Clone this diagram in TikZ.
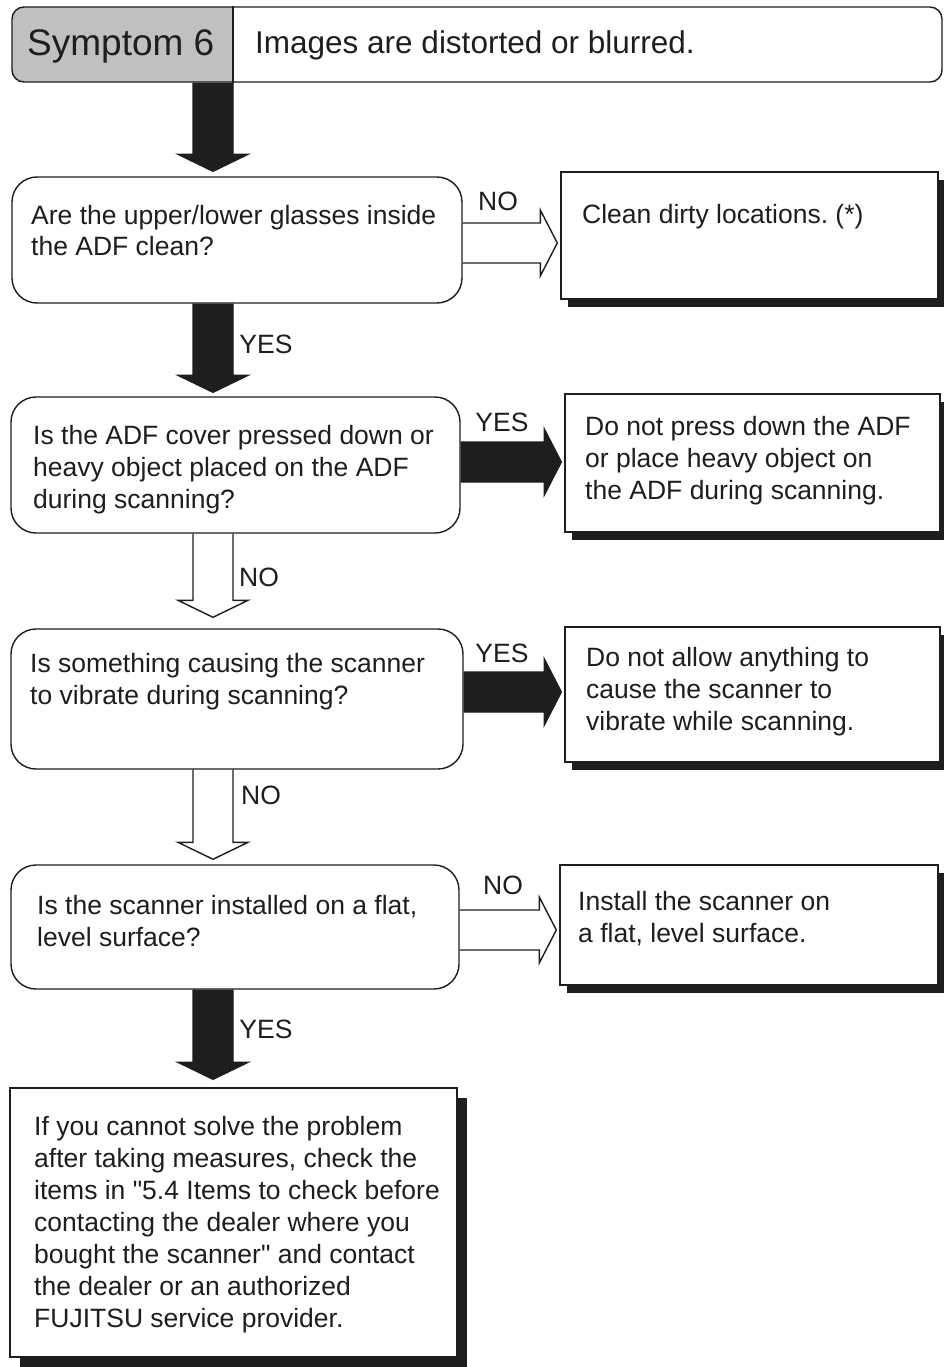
\documentclass[tikz,border=0pt]{standalone}
\usepackage{fontspec}
\setmainfont{Liberation Sans}[Ligatures=TeXOff]
\usetikzlibrary{calc,shadows}
\definecolor{hdrgray}{RGB}{192,192,194}
\definecolor{ink}{RGB}{30,30,30}
\tikzset{
  line/.style={line width=1.4pt, draw=ink},
  qbox/.style={line, rounded corners=25pt, fill=white, inner sep=0pt},
  abox/.style={line, fill=white, inner sep=0pt,
    drop shadow={shadow xshift=7pt, shadow yshift=-8pt, fill=ink, opacity=1}},
  fbox/.style={line, fill=white, inner sep=0pt,
    drop shadow={shadow xshift=10pt, shadow yshift=-10pt, fill=ink, opacity=1}},
  txt/.style={inner sep=0pt, text=ink, font=\fontsize{26.5}{32}\selectfont},
  lbl/.style={inner sep=0pt, text=ink, font=\fontsize{26.5}{32}\selectfont},
  solidarrow/.style={line, fill=ink},
  openarrow/.style={line},
}
% #1 style, #2 x-coordinate name, #3 from anchor, #4 to anchor, #5 gap
\newcommand\vblock[5]{%
  \path (#2 |- #3) coordinate (vt) ($(#2 |- #4)+(0,-#5)$) coordinate (vb);
  \draw[#1] ($(vt)+(-20,0)$) -- ($(vb)+(-20,-17)$) -- ($(vb)+(-35,-17)$) -- (vb)
    -- ($(vb)+(35,-17)$) -- ($(vb)+(20,-17)$) -- ($(vt)+(20,0)$);
}
% #1 style, #2 y-coordinate name, #3 from node, #4 to node
\newcommand\hblock[4]{%
  \path (#3.east |- #2) coordinate (hs) ($(#4.west |- #2)+(-3,0)$) coordinate (ht);
  \draw[#1] ($(hs)+(0,-20)$) -- ($(ht)+(-17,-20)$) -- ($(ht)+(-17,-33)$) -- (ht)
    -- ($(ht)+(-17,33)$) -- ($(ht)+(-17,20)$) -- ($(hs)+(0,20)$);
}
\frenchspacing
\begin{document}
\begin{tikzpicture}[x=1pt,y=-1pt]
\useasboundingbox (0,0) rectangle (944,1367);
\fill[white] (0,0) rectangle (944,1367);

% header
\begin{scope}
  \clip (12,0) rectangle (233,90);
  \fill[hdrgray, rounded corners=12pt] (12,7) rectangle (942,82);
\end{scope}
\node[line, rounded corners=12pt, minimum width=930pt, minimum height=75pt, inner sep=0pt] (hdr) at (477,44.5) {};
\coordinate (div) at (233,0);
\draw[line] (div |- hdr.north) -- (div |- hdr.south);
\node[inner sep=0pt, text=ink, font=\fontsize{37}{40}\selectfont, anchor=base west] (sym) at (27,56) {Symptom 6};
\node[inner sep=0pt, text=ink, font=\fontsize{31.5}{36}\selectfont, anchor=base west] (ttl) at (255,54) {Images are distorted or blurred.};

% question boxes
\node[qbox, minimum width=450pt, minimum height=126pt] (q1) at (237,240) {};
\node[qbox, minimum width=449pt, minimum height=136pt] (q2) at (235.5,465) {};
\node[qbox, minimum width=452pt, minimum height=140pt] (q3) at (237,699) {};
\node[qbox, minimum width=448pt, minimum height=124pt] (q4) at (235,927) {};

% answer boxes
\node[abox, minimum width=377pt, minimum height=127pt] (r1) at (749.5,235.5) {};
\node[abox, minimum width=375pt, minimum height=138pt] (r2) at (752.5,463) {};
\node[abox, minimum width=375pt, minimum height=135pt] (r3) at (752.5,694.5) {};
\node[abox, minimum width=378pt, minimum height=120pt] (r4) at (749,925) {};
\node[fbox, minimum width=447pt, minimum height=269pt] (fin) at (233.5,1222.5) {};

% texts
\node[txt, anchor=base west] (q1t) at (31,224) {\parbox[t]{440pt}{\raggedright Are the upper/lower glasses inside\\the ADF clean?}};
\node[txt, anchor=base west] (q2t) at (33,444) {\parbox[t]{440pt}{\raggedright Is the ADF cover pressed down or\\heavy object placed on the ADF\\during scanning?}};
\node[txt, anchor=base west] (q3t) at (30,672) {\parbox[t]{440pt}{\raggedright Is something causing the scanner\\to vibrate during scanning?}};
\node[txt, anchor=base west] (q4t) at (37,914) {\parbox[t]{440pt}{\raggedright Is the scanner installed on a flat,\\level surface?}};
\node[txt, anchor=base west] (r1t) at (582,223) {\parbox[t]{360pt}{\raggedright Clean dirty locations. (*)}};
\node[txt, anchor=base west] (r2t) at (585,435) {\parbox[t]{360pt}{\raggedright Do not press down the ADF\\or place heavy object on\\the ADF during scanning.}};
\node[txt, anchor=base west] (r3t) at (586,666) {\parbox[t]{360pt}{\raggedright Do not allow anything to\\cause the scanner to\\vibrate while scanning.}};
\node[txt, anchor=base west] (r4t) at (578,910) {\parbox[t]{360pt}{\raggedright Install the scanner on\\a flat, level surface.}};
\node[txt, anchor=base west] (fint) at (34,1135) {\parbox[t]{430pt}{\raggedright If you cannot solve the problem\\after taking measures, check the\\items in "5.4 Items to check before\\contacting the dealer where you\\bought the scanner" and contact\\the dealer or an authorized\\FUJITSU service provider.}};

% vertical arrows
\coordinate (ax) at (213,0);
\vblock{solidarrow}{ax}{hdr.south}{q1.north}{5}
\vblock{solidarrow}{ax}{q1.south}{q2.north}{4}
\vblock{openarrow}{ax}{q2.south}{q3.north}{11}
\vblock{openarrow}{ax}{q3.south}{q4.north}{5}
\vblock{solidarrow}{ax}{q4.south}{fin.north}{8}

% horizontal arrows
\coordinate (hy1) at (0,243);
\coordinate (hy2) at (0,462);
\coordinate (hy3) at (0,692);
\coordinate (hy4) at (0,930);
\hblock{openarrow}{hy1}{q1}{r1}
\hblock{solidarrow}{hy2}{q2}{r2}
\hblock{solidarrow}{hy3}{q3}{r3}
\hblock{openarrow}{hy4}{q4}{r4}

% labels
\node[lbl] (l1) at (498,201) {NO};
\node[lbl] (l2) at (266,344) {YES};
\node[lbl] (l3) at (502,422) {YES};
\node[lbl] (l4) at (259,577) {NO};
\node[lbl] (l5) at (502,653) {YES};
\node[lbl] (l6) at (261,795) {NO};
\node[lbl] (l7) at (503,885) {NO};
\node[lbl] (l8) at (266,1029) {YES};
\end{tikzpicture}
\end{document}
